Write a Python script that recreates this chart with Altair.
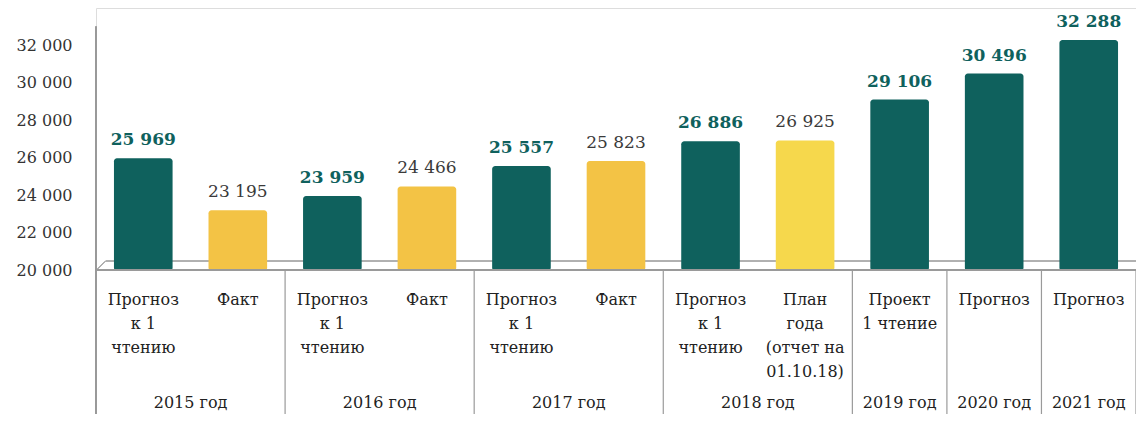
import altair as alt
import pandas as pd

# ---- data ----
years = ["2015 год", "2015 год", "2016 год", "2016 год", "2017 год", "2017 год",
         "2018 год", "2018 год", "2019 год", "2020 год", "2021 год"]
labels = ["Прогноз\nк 1\nчтению", "Факт", "Прогноз\nк 1\nчтению", "Факт",
          "Прогноз\nк 1\nчтению", "Факт", "Прогноз\nк 1\nчтению",
          "План\nгода\n(отчет на\n01.10.18)", "Проект\n1 чтение", "Прогноз", "Прогноз"]
values = [25969, 23195, 23959, 24466, 25557, 25823, 26886, 26925, 29106, 30496, 32288]
kinds = ["forecast", "fact", "forecast", "fact", "forecast", "fact",
         "forecast", "plan", "forecast", "forecast", "forecast"]
y_ticks = [20000, 22000, 24000, 26000, 28000, 30000, 32000]

keys = [f"{y}|{i}" for i, y in enumerate(years)]
df = pd.DataFrame({"key": keys, "year": years, "label": labels,
                   "value": values, "kind": kinds})
df["vtext"] = [f"{v:,}".replace(",", " ") for v in values]

grp_years = []
grp_first = []
grp_span = []
for k, y in zip(keys, years):
    if y in grp_years:
        grp_span[grp_years.index(y)] += 1
    else:
        grp_years.append(y)
        grp_first.append(k)
        grp_span.append(1)
gdf = pd.DataFrame({"year": grp_years, "key": grp_first, "span": grp_span})
last_keys = [k for i, k in enumerate(keys) if i == len(keys) - 1 or years[i + 1] != years[i]]
sdf = pd.DataFrame({"key": last_keys})

W, H = 1040, 262
BOTTOM = 144
FONT = "DejaVu Serif"
TEAL = "#0f615d"

xscale = alt.Scale(domain=keys, paddingInner=0, paddingOuter=0)
X = alt.X("key:N", scale=xscale, axis=None, sort=keys)
yscale = alt.Scale(domain=[20000, 34000], nice=False, zero=False)

base = alt.Chart(df)

bars = base.mark_bar(width=alt.RelativeBandSize(0.62), cornerRadiusTopLeft=3,
                     cornerRadiusTopRight=3, cornerRadiusBottomLeft=2,
                     cornerRadiusBottomRight=2).encode(
    x=X,
    y=alt.Y("value:Q", scale=yscale, title=None,
            axis=alt.Axis(values=y_ticks, grid=False, ticks=False, domain=False,
                          labelExpr="replace(format(datum.value, ',d'), ',', ' ')",
                          labelFont=FONT, labelFontSize=16, labelColor="#333333",
                          labelPadding=24)),
    y2=alt.datum(20000),
    color=alt.Color("kind:N", legend=None,
                    scale=alt.Scale(domain=["forecast", "fact", "plan"],
                                    range=[TEAL, "#f3c345", "#f6d84c"])),
)

XC = alt.X("key:N", scale=xscale, axis=None, sort=keys, bandPosition=0.5)

vals_fc = base.transform_filter(alt.datum.kind == "forecast").mark_text(
    font=FONT, fontSize=17, fontWeight="bold", color=TEAL, baseline="bottom", dy=-9
).encode(x=XC, y=alt.Y("value:Q", scale=yscale), text="vtext:N")

vals_fact = base.transform_filter(alt.datum.kind != "forecast").mark_text(
    font=FONT, fontSize=17, color="#3a3a3a", baseline="bottom", dy=-9
).encode(x=XC, y=alt.Y("value:Q", scale=yscale), text="vtext:N")

cat_text = base.mark_text(font=FONT, fontSize=16, color="#222222", baseline="middle",
                          lineBreak="\n", lineHeight=24).encode(
    x=XC, y=alt.value(H + 30), text="label:N")

year_pair = alt.Chart(gdf).transform_filter(alt.datum.span == 2).mark_text(
    font=FONT, fontSize=16, color="#222222", baseline="middle").encode(
    x=alt.X("key:N", scale=xscale, axis=None, sort=keys, bandPosition=1),
    y=alt.value(H + 133), text="year:N")

year_single = alt.Chart(gdf).transform_filter(alt.datum.span == 1).mark_text(
    font=FONT, fontSize=16, color="#222222", baseline="middle").encode(
    x=XC, y=alt.value(H + 133), text="year:N")

seps = alt.Chart(sdf).mark_rule(color="#9a9a9a", strokeWidth=1.2).encode(
    x=alt.X("key:N", scale=xscale, axis=None, sort=keys, bandPosition=1),
    y=alt.value(H), y2=alt.value(H + BOTTOM))

left_line = alt.Chart(df).mark_rule(color="#9a9a9a", strokeWidth=1.2).encode(
    x=alt.value(0), y=alt.datum(33000), y2=alt.value(H + BOTTOM))

floor_front = alt.Chart(df).mark_rule(color="#9a9a9a", strokeWidth=1.2).encode(
    x=alt.value(0), x2=alt.value(W), y=alt.datum(20000))
floor_back = alt.Chart(df).mark_rule(color="#b0b0b0", strokeWidth=1).encode(
    x=alt.value(10), x2=alt.value(W), y=alt.value(H - 9))
floor_side = alt.Chart(df).mark_rule(color="#b0b0b0", strokeWidth=1).encode(
    x=alt.value(0), x2=alt.value(10), y=alt.value(H), y2=alt.value(H - 9))

chart = alt.layer(
    floor_back, floor_side, bars, floor_front, left_line, seps,
    vals_fc, vals_fact, cat_text, year_pair, year_single
).properties(
    width=W, height=H,
    autosize=alt.AutoSizeParams(type="none"),
    padding={"left": 88, "top": 0, "right": 0, "bottom": BOTTOM},
).configure_view(stroke=None).configure(background="white")

chart.save("out.html", embed_options={"renderer": "svg", "actions": False})
